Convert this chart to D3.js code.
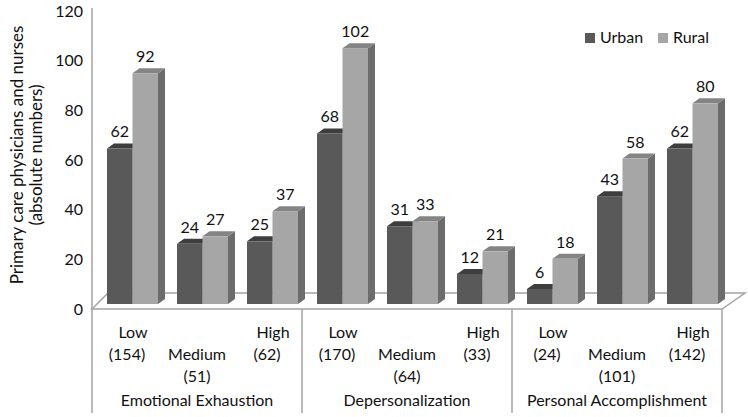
<!DOCTYPE html>
<html><head><meta charset="utf-8">
<script src="https://cdn.jsdelivr.net/npm/d3@7"></script>
<style>
html,body{margin:0;padding:0;background:#fff;}
text{font-family:Lato,"Open Sans",sans-serif;fill:#111;}
</style></head>
<body><svg id="c" width="748" height="417"></svg>
<script>
const groups = ["Emotional Exhaustion","Depersonalization","Personal Accomplishment"];
const levels = ["Low","Medium","High"];
const counts = [154,51,62,170,64,33,24,101,142];
const urban = [62,24,25,68,31,12,6,43,62];
const rural = [92,27,37,102,33,21,18,58,80];
const seriesNames = ["Urban","Rural"];
const yTicks = [0,20,40,60,80,100,120];

const svg = d3.select("#c");
const left = 92, right = 722, floorY = 309, bottom = 413;
const fdx1 = 16, fdx2 = 23, fdy = 16; // floor depth
const bdx = 7, bdy = 5; // bar depth
const fs = 16;

const cats = counts.map((c,i)=>i);
const x = d3.scaleBand().domain(cats).range([left,right]).paddingInner(0).paddingOuter(0);
const xs = d3.scaleBand().domain(seriesNames).range([15,66]);
const yAxisScale = d3.scaleLinear().domain([0,120]).range([floorY, 11]);
const yBar = d3.scaleLinear().domain([0,120]).range([304, 3]);

const grey = "#a3a3a3";
svg.append("path")
  .attr("d", `M${left},${floorY} L${left+fdx1},${floorY-fdy} L${right+fdx2},${floorY-fdy} L${right},${floorY} Z`)
  .attr("fill","#fff").attr("stroke",grey).attr("stroke-width",1.5);

svg.append("line").attr("x1",left).attr("x2",left).attr("y1",8).attr("y2",bottom)
  .attr("stroke",grey).attr("stroke-width",1.5);
[3,6].forEach(i=>{
  svg.append("line").attr("x1",x(i)).attr("x2",x(i)).attr("y1",floorY).attr("y2",bottom)
    .attr("stroke",grey).attr("stroke-width",1.5);
});
svg.append("line").attr("x1",right).attr("x2",right).attr("y1",floorY).attr("y2",bottom)
  .attr("stroke",grey).attr("stroke-width",1.5);

const yAxis = d3.axisLeft(yAxisScale).tickValues(yTicks).tickSize(0).tickPadding(9);
const ya = svg.append("g").attr("transform",`translate(${left},0)`).call(yAxis);
ya.select(".domain").remove();
ya.selectAll("text").style("font-size",fs+"px").style("font-family","Lato,'Open Sans',sans-serif").attr("fill","#111");

const yt = svg.append("text").attr("transform","translate(0,155) rotate(-90)")
  .attr("text-anchor","middle").style("font-size","17px");
yt.append("tspan").attr("x",0).attr("y",23).text("Primary care physicians and nurses");
yt.append("tspan").attr("x",0).attr("y",42).text("(absolute numbers)");

const colors = {
  Urban:{front:"#595959", top:"#3e3e3e", side:"#454545"},
  Rural:{front:"#a6a6a6", top:"#848484", side:"#6c6c6c"}
};
const data = [];
cats.forEach(i=>{
  data.push({i, s:"Urban", v:urban[i]});
  data.push({i, s:"Rural", v:rural[i]});
});
const bars = svg.append("g").selectAll("g").data(data).join("g");
bars.each(function(d){
  const g = d3.select(this);
  const x0 = x(d.i) + xs(d.s), x1 = x0 + xs.bandwidth();
  const yt0 = yBar(d.v), yb = yBar(0);
  const c = colors[d.s];
  g.append("path").attr("d",`M${x1},${yb} L${x1+bdx},${yb-bdy} L${x1+bdx},${yt0-bdy} L${x1},${yt0} Z`).attr("fill",c.side);
  g.append("path").attr("d",`M${x0},${yt0} L${x0+bdx},${yt0-bdy} L${x1+bdx},${yt0-bdy} L${x1},${yt0} Z`).attr("fill",c.top);
  g.append("rect").attr("x",x0).attr("y",yt0).attr("width",x1-x0).attr("height",yb-yt0).attr("fill",c.front);
  g.append("text").attr("x",(x0+x1)/2).attr("y",yt0-11).attr("text-anchor","middle")
    .style("font-size",fs+"px").text(d.v);
});

const rows = [338, 360, 382];
cats.forEach(i=>{
  const lv = i%3, cx = x(i)+x.bandwidth()/2;
  const r = lv===1 ? 1 : 0;
  svg.append("text").attr("x",cx + (lv===1?0:6)).attr("y",rows[r]).attr("text-anchor","middle")
    .style("font-size",fs+"px").text(levels[lv]);
  svg.append("text").attr("x",cx).attr("y",rows[r+1]).attr("text-anchor","middle")
    .style("font-size",fs+"px").text("("+counts[i]+")");
});
groups.forEach((gname,k)=>{
  const cx = (x(k*3) + x(k*3+2) + x.bandwidth())/2;
  svg.append("text").attr("x",cx).attr("y",406).attr("text-anchor","middle")
    .style("font-size",fs+"px").text(gname);
});

const legX = [585, 658];
seriesNames.forEach((s,k)=>{
  svg.append("rect").attr("x",legX[k]).attr("y",33).attr("width",10).attr("height",10).attr("fill",colors[s].front);
  svg.append("text").attr("x",legX[k]+15).attr("y",43).style("font-size",fs+"px").text(s);
});
</script></body></html>
